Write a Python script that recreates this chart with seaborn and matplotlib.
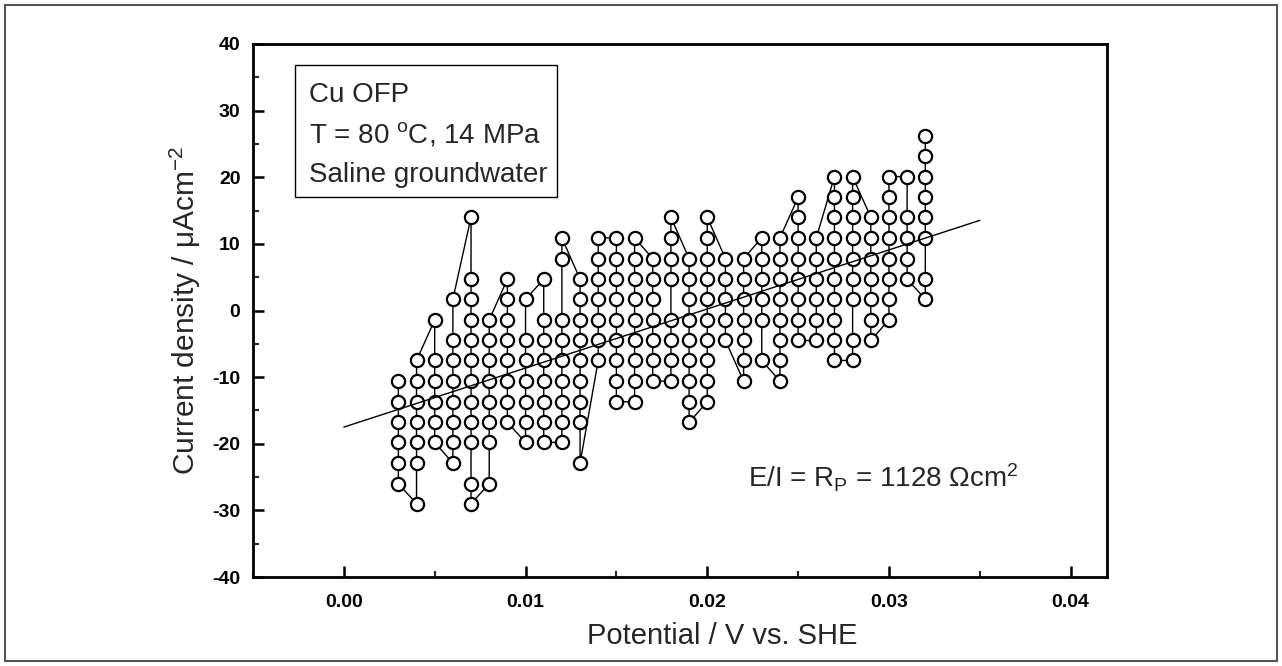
import numpy as np
import pandas as pd
import matplotlib
matplotlib.use("Agg")
import matplotlib.pyplot as plt
import seaborn as sns
from matplotlib.patches import Rectangle
from matplotlib.ticker import MultipleLocator, FormatStrFormatter

# ---------------- data ----------------
potential_V = [0.003, 0.004, 0.005, 0.006, 0.007, 0.008, 0.009, 0.010, 0.011, 0.012,
               0.013, 0.014, 0.015, 0.016, 0.017, 0.018, 0.019, 0.020, 0.021, 0.022,
               0.023, 0.024, 0.025, 0.026, 0.027, 0.028, 0.029, 0.030, 0.031, 0.032]

# current density (uA/cm2) recorded at each potential, in measurement order
i03 = [-10.6, -13.7, -16.8, -19.8, -22.9, -26.0]
i04 = [-29.0, -22.9, -19.8, -16.8, -13.7, -10.6, -7.5]
i05 = [-1.4, -7.5, -10.6, -13.7, -16.8, -19.8]
i06 = [-22.9, -19.8, -16.8, -13.7, -10.6, -7.5, -4.5, 1.7]
i07 = [14.0, 4.7, 1.7, -1.4, -4.5, -7.5, -10.6, -13.7, -16.8, -19.8, -26.0, -29.0]
i08 = [-26.0, -19.8, -16.8, -13.7, -10.6, -7.5, -4.5, -1.4]
i09 = [4.7, 1.7, -1.4, -4.5, -7.5, -10.6, -13.7, -16.8]
i10 = [-19.8, -16.8, -13.7, -10.6, -7.5, -4.5, 1.7]
i11 = [4.7, -1.4, -4.5, -7.5, -10.6, -13.7, -16.8, -19.8]
i12 = [-19.8, -16.8, -13.7, -10.6, -7.5, -4.5, -1.4, 7.8, 10.9]
i13 = [4.7, 1.7, -1.4, -4.5, -7.5, -10.6, -13.7, -16.8, -22.9]
i14 = [-7.5, -4.5, -1.4, 1.7, 4.7, 7.8, 10.9]
i15 = [10.9, 7.8, 4.7, 1.7, -1.4, -4.5, -7.5, -10.6, -13.7]
i16 = [-13.7, -10.6, -7.5, -4.5, -1.4, 1.7, 4.7, 7.8, 10.9]
i17 = [7.8, 4.7, 1.7, -1.4, -4.5, -7.5, -10.6]
i18 = [-10.6, -7.5, -4.5, -1.4, 4.7, 7.8, 10.9, 14.0]
i19 = [7.8, 4.7, 1.7, -1.4, -4.5, -7.5, -10.6, -13.7, -16.8]
i20 = [-13.7, -10.6, -7.5, -4.5, -1.4, 1.7, 4.7, 7.8, 10.9, 14.0]
i21 = [7.8, 4.7, 1.7, -1.4, -4.5]
i22 = [-10.6, -7.5, -4.5, -1.4, 1.7, 4.7, 7.8]
i23 = [10.9, 7.8, 4.7, 1.7, -1.4, -7.5]
i24 = [-10.6, -7.5, -4.5, -1.4, 1.7, 4.7, 7.8, 10.9]
i25 = [17.0, 14.0, 10.9, 7.8, 4.7, 1.7, -1.4, -4.5]
i26 = [-4.5, -1.4, 1.7, 4.7, 7.8, 10.9]
i27 = [20.1, 17.0, 14.0, 10.9, 7.8, 4.7, 1.7, -1.4, -4.5, -7.5]
i28 = [-7.5, -4.5, 1.7, 4.7, 7.8, 10.9, 14.0, 17.0, 20.1]
i29 = [14.0, 10.9, 7.8, 4.7, 1.7, -1.4, -4.5]
i30 = [-1.4, 1.7, 4.7, 7.8, 10.9, 14.0, 17.0, 20.1]
i31 = [20.1, 14.0, 10.9, 7.8, 4.7]
i32 = [1.7, 4.7, 10.9, 14.0, 17.0, 20.1, 23.2, 26.2]

current_columns = [i03, i04, i05, i06, i07, i08, i09, i10, i11, i12,
                   i13, i14, i15, i16, i17, i18, i19, i20, i21, i22,
                   i23, i24, i25, i26, i27, i28, i29, i30, i31, i32]

# linear fit  E/I = Rp
Rp_ohm_cm2 = 1128
fit_intercept_uA = -17.5
fit_E = [0.0, 0.035]

x_ticks = [0.00, 0.01, 0.02, 0.03, 0.04]
y_ticks = [-40, -30, -20, -10, 0, 10, 20, 30, 40]

# ---------------- assemble ----------------
E_all, I_all = [], []
for e, col in zip(potential_V, current_columns):
    E_all += [e] * len(col)
    I_all += col
df = pd.DataFrame({"E": E_all, "I": I_all})
fit_I = [fit_intercept_uA + e * 1e6 / Rp_ohm_cm2 for e in fit_E]
df_fit = pd.DataFrame({"E": fit_E, "I": fit_I})

# ---------------- style ----------------
sns.set_style("ticks")
plt.rcParams["font.family"] = ["Liberation Sans", "DejaVu Sans"]
plt.rcParams["mathtext.fontset"] = "custom"
plt.rcParams["mathtext.rm"] = "Liberation Sans"
plt.rcParams["mathtext.it"] = "Liberation Sans:italic"
plt.rcParams["mathtext.bf"] = "Liberation Sans:bold"
plt.rcParams["axes.unicode_minus"] = False

fig = plt.figure(figsize=(12.82, 6.66), dpi=100)
fig.patch.set_facecolor("white")
ax = fig.add_axes([253 / 1282, 1 - 577 / 666, (1107 - 253) / 1282, (577 - 44) / 666])

sns.lineplot(data=df, x="E", y="I", sort=False, estimator=None, ax=ax,
             color="black", linewidth=1.0, marker="o", markersize=9.5,
             markerfacecolor="white", markeredgecolor="black",
             markeredgewidth=1.6, zorder=2)
sns.lineplot(data=df_fit, x="E", y="I", ax=ax, color="black",
             linewidth=1.0, zorder=3)

ax.set_xlim(-0.005, 0.042)
ax.set_ylim(-40, 40)
ax.set_xticks(x_ticks)
ax.set_yticks(y_ticks)
ax.xaxis.set_major_formatter(FormatStrFormatter("%.2f"))
ax.xaxis.set_minor_locator(MultipleLocator(0.005))
ax.yaxis.set_minor_locator(MultipleLocator(5))
ax.tick_params(which="major", direction="in", length=8, width=1.8,
               labelsize=14, colors="black")
ax.tick_params(axis="x", which="major", pad=12)
ax.tick_params(axis="y", which="major", pad=9)
ax.tick_params(which="minor", direction="in", length=4.5, width=1.5)
for lab in ax.get_xticklabels() + ax.get_yticklabels():
    lab.set_fontweight("bold")
for sp in ax.spines.values():
    sp.set_visible(True)
    sp.set_linewidth(2.0)
    sp.set_color("black")

ax.set_xlabel("Potential / V vs. SHE", fontsize=21)
ax.xaxis.set_label_coords((722 - 253) / 854, -(622 - 577) / 533)
ax.set_ylabel(r"Current density / $\mathrm{\mu}$Acm$^{-2}$", fontsize=21.5, labelpad=7)

# annotation box
ax.add_patch(Rectangle((0.049, 0.713), 0.307, 0.248, transform=ax.transAxes,
                       fill=False, edgecolor="black", linewidth=1.0, zorder=4))
ax.text(0.066, 0.905, "Cu OFP", transform=ax.transAxes, fontsize=20, va="center")
ax.text(0.066, 0.830, r"T = 80 $^{\mathrm{o}}$C, 14 MPa", transform=ax.transAxes,
        fontsize=20, va="center")
ax.text(0.066, 0.755, "Saline groundwater", transform=ax.transAxes, fontsize=20, va="center")

ax.text(0.580, 0.186, r"E/I = R$_{\mathrm{P}}$ = 1128 $\Omega$cm$^{2}$",
        transform=ax.transAxes, fontsize=20, va="center")

# outer frame
fig.patches.append(Rectangle((5 / 1282, 1 - 661 / 666), 1272 / 1282, 656 / 666,
                             transform=fig.transFigure, fill=False,
                             edgecolor="#555555", linewidth=1.5))

fig.savefig("out.png", dpi=100, facecolor="white")
